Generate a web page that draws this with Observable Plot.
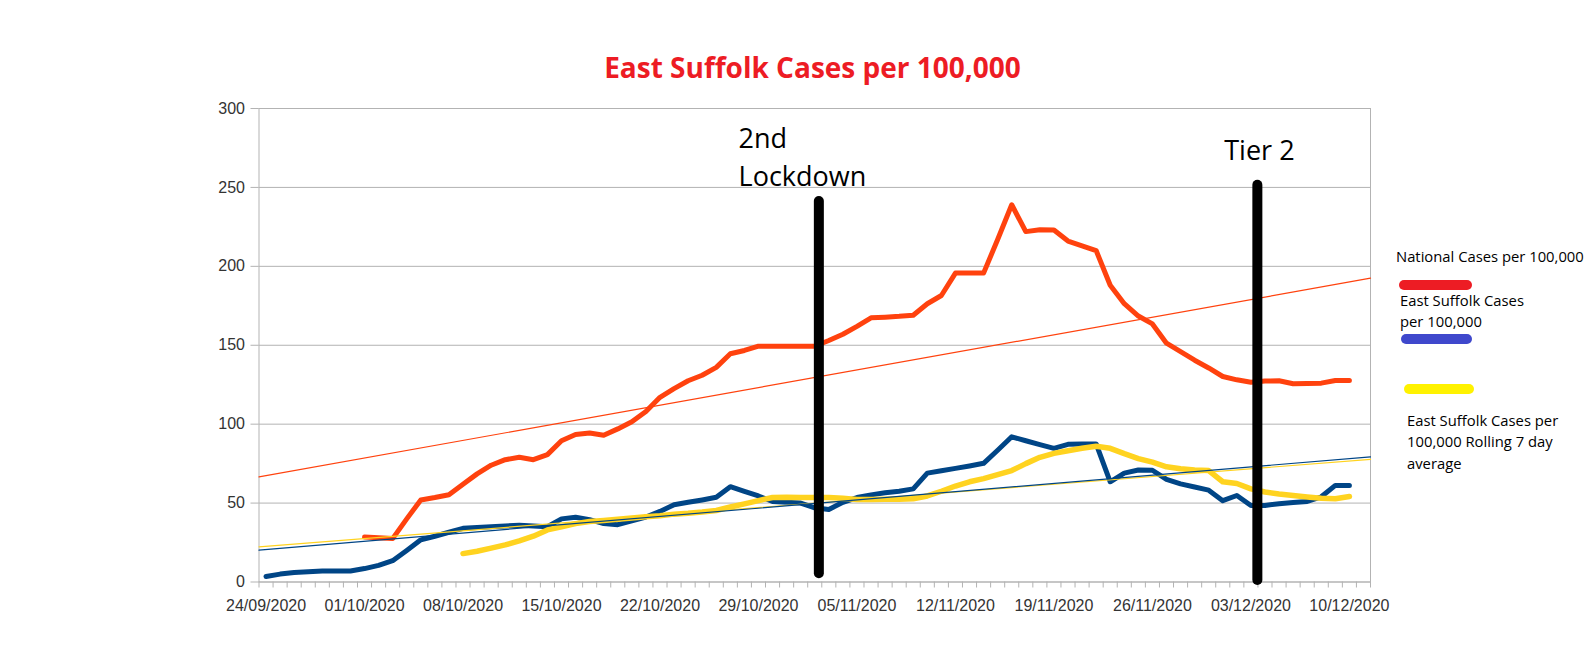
<!DOCTYPE html>
<html>
<head>
<meta charset="utf-8">
<script src="https://cdn.jsdelivr.net/npm/d3@7"></script>
<script src="https://cdn.jsdelivr.net/npm/@observablehq/plot@0.6"></script>
<style>
html, body { margin: 0; padding: 0; background: #fff; }
#chart { position: relative; width: 1596px; height: 672px; overflow: hidden; background: #fff; }
#title { position: relative; height: 100px; }
#title span { position: absolute; left: 812.5px; top: 53px; transform: translateX(-50%); white-space: nowrap;
  font-family: "Open Sans", sans-serif; font-weight: bold; font-size: 28px; line-height: 28px; color: #ed1c24; }
#plot svg { display: block; }
.leg { position: absolute; font-family: "Open Sans", sans-serif; font-size: 14.8px; line-height: 21.4px; color: #000; white-space: nowrap; }
.sw { position: absolute; height: 9.5px; border-radius: 5px; }
</style>
</head>
<body>
<div id="chart">
  <div id="title"><span>East Suffolk Cases per 100,000</span></div>
  <div id="plot"></div>
  <div class="leg" style="left:1396px;top:246px">National Cases per 100,000</div>
  <div class="sw" style="left:1399px;top:280px;width:73px;background:#ed1c24"></div>
  <div class="leg" style="left:1400px;top:290px">East Suffolk Cases<br>per 100,000</div>
  <div class="sw" style="left:1401px;top:334px;width:71px;background:#3f48cc"></div>
  <div class="sw" style="left:1404px;top:384px;width:70px;background:#fff200"></div>
  <div class="leg" style="left:1407px;top:410px">East Suffolk Cases per<br>100,000 Rolling 7 day<br>average</div>
</div>
<script>
// ---- categories (one per day) ----
const firstCategory = "2020-09-24";
const lastCategory = "2020-12-11"; // last (empty) category on the axis
const xTickLabels = ["24/09/2020","01/10/2020","08/10/2020","15/10/2020","22/10/2020","29/10/2020",
  "05/11/2020","12/11/2020","19/11/2020","26/11/2020","03/12/2020","10/12/2020"];
const yTicks = [0, 50, 100, 150, 200, 250, 300];

// ---- series values, 24/09/2020 .. 10/12/2020 (78 days) ----
const nationalCases = [null, null, null, null, null, null, null,
  28.5, 28, 27.5, 40, 52, 53.5, 55.3, 62, 68.5, 74, 77.5, 79, 77.5,
  80.7, 89.5, 93.5, 94.4, 93, 97, 101.5, 108, 117, 122.5,
  127.5, 131, 136, 144.6, 146.7, 149.4, 149.4, 149.4, 149.4, 149.4,
  153, 157, 162, 167.4, 167.8, 168.3, 169, 176.3, 181.5, 195.7,
  195.7, 195.7, 217, 239, 222, 223.2, 223, 216, 213, 210,
  188, 176.3, 168.5, 163.5, 151.3, 146, 140.5, 135.6, 130.2, 128.1,
  126.6, 127.3, 127.5, 125.6, 125.8, 126, 127.7, 127.7];
const eastSuffolkCases = [3.5, 5, 6, 6.5, 7, 7, 7, 8.5, 10.5, 13.5,
  20, 26.7, 29, 31.5, 34, 34.5, 35, 35.5, 36, 35.5,
  35, 40, 41, 39.5, 37, 36.3, 38.7, 41.2, 44.7, 49,
  50.5, 52, 53.7, 60.4, 57.4, 54.5, 51, 50.5, 50, 47,
  46, 50.5, 53.5, 55.2, 56.5, 57.5, 59, 69, 70.5, 72,
  73.5, 75.2, 83.5, 92, 89.5, 87, 84.7, 87.2, 87.5, 87.5,
  63.5, 69, 71, 70.8, 65, 62.2, 60.2, 58.2, 51.5, 54.8,
  48.5, 48.5, 49.6, 50.3, 51, 54, 61.2, 61.2];
const rollingAverage = [null, null, null, null, null, null, null, null, null, null, null, null, null, null,
  18, 19.5, 21.5, 23.5, 26, 29, 33,
  35, 37, 38.3, 39, 39.7, 40.5, 41.3, 42, 43,
  43.5, 44.3, 45.3, 47.5, 49.5, 51.6, 53.5, 53.7, 53.5, 53.5,
  53.5, 53, 52.3, 52.3, 52.5, 52.5, 52.7, 54.5, 57.5, 60.8,
  63.5, 65.5, 68, 70.6, 75, 79, 81.5, 83.2, 84.7, 86,
  84.7, 81.3, 78.2, 75.9, 73, 71.7, 71, 70.6, 63.5, 62.4,
  59, 57, 55.8, 54.8, 53.9, 53, 52.8, 54.2];

// ---- linear trend lines: value at the axis start and at the axis end ----
const trendNational = [66.6, 192.5];
const trendEastSuffolk = [20.2, 79.3];
const trendRolling = [22.3, 77.7];

// ---- annotations ----
const markerDates = ["2020-11-02T07:00Z", "2020-12-03T11:00Z"];
const markerTop = [241, 251.3];
const markerBottom = [5.2, 1.0];
const noteTexts = ["2nd\nLockdown", "Tier 2"];
const noteDates = ["2020-10-27T14:00Z", "2020-12-01T02:30Z"];
const noteValues = [251.2, 267.5];

// ---- derived ----
const categories = d3.utcDay.range(new Date(firstCategory), d3.utcDay.offset(new Date(lastCategory), 1));
const dataDates = categories.slice(0, eastSuffolkCases.length);
const x0 = d3.utcHour.offset(categories[0], -12);
const x1 = d3.utcHour.offset(categories[categories.length - 1], 12);
const boundaries = categories.map(d => d3.utcHour.offset(d, -12)).concat([x1]);
const parseLabel = d3.utcParse("%d/%m/%Y");
const tickDates = xTickLabels.map(parseLabel);
const trendX = [x0, x1];
const markers = markerDates.map((d, i) => ({x: new Date(d), y1: markerBottom[i], y2: markerTop[i]}));
const notes = noteTexts.map((t, i) => ({text: t, x: new Date(noteDates[i]), y: noteValues[i]}));

const blue = "#004586", red = "#ff420e", yellow = "#ffd320", grid = "#b3b3b3";

const chart = Plot.plot({
  width: 1596,
  height: 572,
  marginTop: 8,
  marginBottom: 90.5,
  marginLeft: 258.5,
  marginRight: 226,
  style: {fontFamily: "'Liberation Sans', Arial, sans-serif", fontSize: "16px", color: "#333", background: "#fff", overflow: "visible"},
  x: {type: "utc", domain: [x0, x1], label: null},
  y: {domain: [0, 300], label: null},
  marks: [
    Plot.gridY(yTicks, {stroke: grid, strokeOpacity: 1}),
    Plot.frame({stroke: grid}),
    Plot.axisY(yTicks, {tickSize: 8, tickPadding: 6, stroke: grid, fill: "#333", fontSize: 16, label: null}),
    Plot.axisX(boundaries, {tickSize: 6, tickFormat: () => "", stroke: grid, label: null}),
    Plot.axisX(tickDates, {tickSize: 0, tickPadding: 18, tickFormat: d3.utcFormat("%d/%m/%Y"), fill: "#333", fontSize: 16, label: null}),
    Plot.lineY(eastSuffolkCases, {x: dataDates, y: d => d, stroke: blue, strokeWidth: 5, strokeLinejoin: "round"}),
    Plot.lineY(nationalCases, {x: dataDates, y: d => d, stroke: red, strokeWidth: 5, strokeLinejoin: "round"}),
    Plot.lineY(rollingAverage, {x: dataDates, y: d => d, stroke: yellow, strokeWidth: 5.5, strokeLinejoin: "round"}),
    Plot.lineY(trendNational, {x: trendX, y: d => d, stroke: red, strokeWidth: 1.2}),
    Plot.lineY(trendRolling, {x: trendX, y: d => d, stroke: yellow, strokeWidth: 1.2}),
    Plot.lineY(trendEastSuffolk, {x: trendX, y: d => d, stroke: blue, strokeWidth: 1.2}),
    Plot.ruleX(markers, {x: "x", y1: "y1", y2: "y2", stroke: "#000", strokeWidth: 10, strokeLinecap: "round"}),
    Plot.text(notes, {x: "x", y: "y", text: "text", textAnchor: "start", lineAnchor: "bottom", lineHeight: 1.4,
      fontSize: 27, fontFamily: "'Open Sans', sans-serif", fill: "#000"})
  ]
});
document.getElementById("plot").appendChild(chart);
</script>
</body>
</html>
